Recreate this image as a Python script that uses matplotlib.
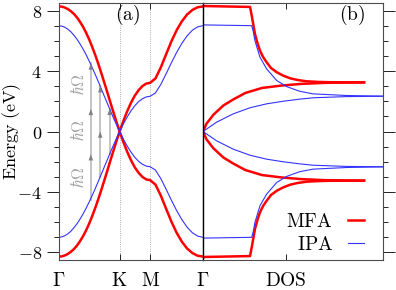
import matplotlib
matplotlib.use('Agg')
import matplotlib.pyplot as plt

plt.rcParams['mathtext.fontset'] = 'cm'

# (a) bands along Gamma-K-M-Gamma, path coordinate (Gamma=0, K=1, M=1.5, Gamma=2.366)
k_path = [0.00, 0.05, 0.10, 0.15, 0.20, 0.25, 0.30, 0.35, 0.40, 0.45, 0.50,
          0.55, 0.60, 0.65, 0.70, 0.75, 0.80, 0.85, 0.90, 0.95, 1.00,
          1.0625, 1.125, 1.1875, 1.25, 1.3125, 1.375, 1.4375, 1.50,
          1.587, 1.673, 1.760, 1.846, 1.933, 2.020, 2.106, 2.193, 2.279, 2.366]
ipa_band = [7.00, 6.97, 6.90, 6.77, 6.60, 6.37, 6.11, 5.80, 5.46, 5.08, 4.67,
            4.23, 3.78, 3.30, 2.82, 2.33, 1.85, 1.36, 0.89, 0.44, 0.00,
            0.51, 0.97, 1.37, 1.71, 1.98, 2.17, 2.29, 2.33,
            2.55, 3.10, 3.80, 4.53, 5.22, 5.83, 6.33, 6.70, 6.92, 7.00]
mfa_band = [8.27, 8.26, 8.20, 8.10, 7.96, 7.78, 7.55, 7.26, 6.93, 6.54, 6.10,
            5.60, 5.06, 4.48, 3.86, 3.22, 2.57, 1.90, 1.25, 0.61, 0.00,
            0.71, 1.35, 1.91, 2.38, 2.74, 3.01, 3.17, 3.22,
            3.51, 4.22, 5.09, 5.94, 6.69, 7.29, 7.74, 8.04, 8.22, 8.27]
k_ticks = [0.0, 1.0, 1.5, 2.366]
k_labels = [r'$\Gamma$', r'$\mathrm{K}$', r'$\mathrm{M}$', r'$\Gamma$']

# photon ladders (hbar*Omega = 3 eV)
arrow_x = [0.528, 0.682, 0.835]
arrow_top = [4.5, 3.0, 1.5]
h_omega = 3.0
hw_label_x = 0.33
hw_label_y = [-3.0, 0.1, 3.1]

# (b) right panel
mfa_out_x = [0.000, 0.261, 0.272, 0.288, 0.302, 0.316, 0.333, 0.353, 0.377, 0.409,
             0.444, 0.483, 0.527, 0.575, 0.638, 0.704, 0.893]
mfa_out = [8.30, 8.24, 7.55, 6.46, 5.85, 5.35, 4.93, 4.58, 4.20, 3.92,
           3.70, 3.52, 3.40, 3.32, 3.28, 3.26, 3.25]
mfa_in_x = [0.000, 0.019, 0.057, 0.113, 0.168, 0.235, 0.327, 0.436, 0.546, 0.680, 0.893]
mfa_in = [0.00, 0.51, 1.10, 1.72, 2.12, 2.55, 2.88, 3.04, 3.15, 3.22, 3.25]
ipa_out_x = [0.000, 0.270, 0.279, 0.288, 0.316, 0.353, 0.409, 0.464, 0.536,
             0.610, 0.798, 1.000]
ipa_out = [7.05, 7.00, 6.60, 6.01, 4.91, 4.14, 3.37, 2.97, 2.66,
           2.49, 2.38, 2.34]
ipa_in_x = [0.000, 0.076, 0.168, 0.261, 0.353, 0.444, 0.536, 0.610, 0.798, 1.000]
ipa_in = [0.00, 0.62, 1.17, 1.57, 1.83, 2.00, 2.14, 2.23, 2.31, 2.33]
dos_tick = 0.459

red = '#ff0000'
blue = '#3333ff'

fig = plt.figure(figsize=(3.96, 2.90), dpi=100)
ax1 = fig.add_axes([0.148, 0.1034, 0.3646, 0.8863])
ax2 = fig.add_axes([0.5126, 0.1034, 0.4554, 0.8863])

# left panel
ax1.plot(k_path, mfa_band, color=red, lw=1.8)
ax1.plot(k_path, [-e for e in mfa_band], color=red, lw=1.8)
ax1.plot(k_path, ipa_band, color=blue, lw=0.8)
ax1.plot(k_path, [-e for e in ipa_band], color=blue, lw=0.8)
for kx in k_ticks[1:3]:
    ax1.axvline(kx, color='0.6', lw=0.6, ls=':', zorder=0)

for x, top in zip(arrow_x, arrow_top):
    ax1.plot([x, x], [-top, top], color='0.75', lw=1.3, zorder=1)
    y = -top + h_omega
    while y <= top + 1e-6:
        ax1.annotate('', xy=(x, y), xytext=(x, y - 0.6),
                     arrowprops=dict(arrowstyle='-|>,head_length=0.45,head_width=0.16',
                                     color='0.5', lw=0.0, shrinkA=0, shrinkB=0))
        y += h_omega
for yl in hw_label_y:
    ax1.text(hw_label_x, yl, r'$\hbar\Omega$', rotation=90, color='0.65',
             fontsize=12, ha='center', va='center')

ax1.set_xlim(0, 2.366)
ax1.set_ylim(-8.5, 8.5)
ax1.set_xticks(k_ticks)
ax1.set_xticklabels(k_labels, fontsize=14)
ax1.set_yticks([-8, -4, 0, 4, 8])
ax1.set_yticklabels([r'$-8$', r'$-4$', r'$0$', r'$4$', r'$8$'], fontsize=13)
ax1.set_yticks(range(-8, 9), minor=True)
ax1.tick_params(axis='y', which='major', direction='out', length=8.5, width=0.6, left=True, right=False)
ax1.tick_params(axis='y', which='minor', direction='out', length=3.6, width=0.6, left=True, right=False)
ax1.tick_params(axis='x', direction='in', length=4, width=0.6, top=True, pad=8)
ax1.set_ylabel(r'$\mathrm{Energy\ (eV)}$', fontsize=13)
ax1.yaxis.set_label_coords(-0.245, 0.5)
ax1.text(0.48, 0.955, r'$\mathrm{(a)}$', transform=ax1.transAxes, fontsize=14,
         ha='center', va='center')

# right panel
ax2.plot(mfa_out_x, mfa_out, color=red, lw=1.8, label=r'$\mathrm{MFA}$')
ax2.plot(mfa_out_x, [-e for e in mfa_out], color=red, lw=1.8)
ax2.plot(mfa_in_x, mfa_in, color=red, lw=1.8)
ax2.plot(mfa_in_x, [-e for e in mfa_in], color=red, lw=1.8)
ax2.plot(ipa_out_x, ipa_out, color=blue, lw=0.8, label=r'$\mathrm{IPA}$')
ax2.plot(ipa_out_x, [-e for e in ipa_out], color=blue, lw=0.8)
ax2.plot(ipa_in_x, ipa_in, color=blue, lw=0.8)
ax2.plot(ipa_in_x, [-e for e in ipa_in], color=blue, lw=0.8)

ax2.set_xlim(0, 1)
ax2.set_ylim(-8.5, 8.5)
ax2.set_xticks([dos_tick])
ax2.set_xticklabels([r'$\mathrm{DOS}$'], fontsize=14)
ax2.set_yticks([-8, -4, 0, 4, 8])
ax2.set_yticks(range(-8, 9), minor=True)
ax2.tick_params(axis='y', which='major', direction='out', length=8.5, width=0.6,
                left=False, right=True, labelleft=False)
ax2.tick_params(axis='y', which='minor', direction='out', length=3.6, width=0.6,
                left=False, right=True)
ax2.tick_params(axis='x', direction='in', length=4, width=0.6, top=True, pad=8)
ax2.text(0.825, 0.955, r'$\mathrm{(b)}$', transform=ax2.transAxes, fontsize=14,
         ha='center', va='center')
ax2.legend(loc='lower right', frameon=False, fontsize=14, markerfirst=False,
           handlelength=0.8, handletextpad=0.8, labelspacing=0.2,
           bbox_to_anchor=(0.99, -0.045))

for ax in (ax1, ax2):
    for sp in ax.spines.values():
        sp.set_color('0.3')
        sp.set_linewidth(0.8)
ax2.spines['left'].set_color('black')
ax2.spines['left'].set_linewidth(1.0)

fig.savefig('out.png', dpi=100)
